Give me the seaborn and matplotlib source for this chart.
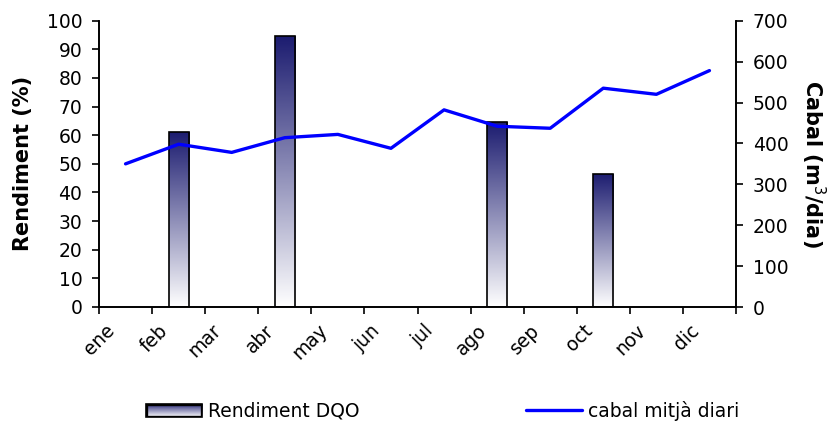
import numpy as np
import pandas as pd
import matplotlib
matplotlib.use("Agg")
import matplotlib.pyplot as plt
from matplotlib.colors import LinearSegmentedColormap
from matplotlib.patches import Patch, Rectangle
from matplotlib.lines import Line2D
import seaborn as sns

# data
months = ["ene", "feb", "mar", "abr", "may", "jun",
          "jul", "ago", "sep", "oct", "nov", "dic"]
rendiment_dqo = [np.nan, 61, np.nan, 94.5, np.nan, np.nan,
                 np.nan, 64.5, np.nan, 46.5, np.nan, np.nan]
cabal_diari = [350, 398, 378, 414, 422, 388, 482, 442, 437, 535, 520, 578]

sns.set_theme(style="white")
plt.rcParams['font.family'] = ['DejaVu Sans']
plt.rcParams['font.size'] = 13.5
for key in ("text.color", "axes.labelcolor", "xtick.color", "ytick.color"):
    plt.rcParams[key] = "black"

fig = plt.figure(figsize=(8.3, 4.25), dpi=100)
ax = fig.add_axes([99 / 830, 1 - 307 / 425, (736 - 99) / 830, (307 - 20.7) / 425])
ax2 = ax.twinx()

df = pd.DataFrame({"mes": months, "rend": rendiment_dqo, "pos": np.arange(len(months))})
sns.barplot(data=df, x="mes", y="rend", order=months, ax=ax, width=0.38,
            color="white", edgecolor="black", linewidth=1.2, saturation=1)

# gradient fill: dark navy at top fading to white at the bottom
cmap = LinearSegmentedColormap.from_list("navy_fade", ["white", "#1c1c70"])
grad = np.linspace(0, 1, 256).reshape(-1, 1)
for patch in ax.patches:
    x0, y0 = patch.get_x(), patch.get_y()
    w, h = patch.get_width(), patch.get_height()
    if np.isnan(h) or h == 0:
        continue
    im = ax.imshow(grad, cmap=cmap, aspect="auto", origin="lower",
                   extent=[x0, x0 + w, y0, y0 + h], zorder=patch.get_zorder() - 0.1,
                   interpolation="bilinear")
    im.set_clip_path(patch)
    patch.set_facecolor("none")

sns.lineplot(data=df, x="pos", y=cabal_diari, ax=ax2, color="#0000ff",
             linewidth=2.4, sort=False)

ax.set_xlim(-0.5, 11.5)
ax.set_ylim(0, 100)
ax2.set_ylim(0, 700)
ax.set_yticks(np.arange(0, 101, 10))
ax2.set_yticks(np.arange(0, 701, 100))

# tick marks on the category boundaries, labels shifted a bit to the right
ax.set_xticks(np.arange(-0.5, 12, 1))
ax.set_xticklabels([])
ax.set_xticks(np.arange(12) - 0.38, minor=True)
ax.set_xticklabels(months, minor=True, rotation=45, ha="right",
                   rotation_mode="anchor", fontsize=13.5)
ax.tick_params(axis="x", which="minor", length=0, pad=10, bottom=True)
ax.set_xlabel("")
ax2.set_xlabel("")

for a in (ax, ax2):
    a.tick_params(axis="both", which="major", direction="out", length=5, width=1.2,
                  color="black", labelsize=13.5, pad=7)
    a.spines["top"].set_visible(False)
    for side in ("left", "right", "bottom"):
        a.spines[side].set_color("black")
        a.spines[side].set_linewidth(1.2)
ax.tick_params(axis="y", left=True, right=False)
ax.tick_params(axis="x", which="major", bottom=True)
ax2.tick_params(axis="y", right=True, left=False)

ax.set_ylabel("Rendiment (%)", fontweight="bold", fontsize=15, labelpad=10)
ax2.set_ylabel("Cabal (m$^3$/dia)", fontweight="bold", fontsize=15,
               rotation=270, labelpad=28)

handles = [Patch(facecolor="none", edgecolor="black", linewidth=1.2),
           Line2D([0], [0], color="#0000ff", linewidth=2.4)]
leg = fig.legend(handles, ["Rendiment DQO", "cabal mitjà diari"], ncol=2, frameon=False,
                 loc="center", bbox_to_anchor=(0.533, 0.033), handlelength=3.0,
                 handletextpad=0.3, columnspacing=8.9, fontsize=13.5)

# paint the gradient into the bar legend key
fig.canvas.draw()
key = leg.get_patches()[0]
bb = key.get_window_extent().transformed(fig.transFigure.inverted())
kax = fig.add_axes([bb.x0, bb.y0, bb.width, bb.height])
kax.imshow(grad, cmap=cmap, aspect="auto", origin="lower", extent=[0, 1, 0, 1])
kax.add_patch(Rectangle((0, 0), 1, 1, fill=False, edgecolor="black", linewidth=2.4,
                        transform=kax.transAxes, clip_on=True))
kax.set_axis_off()

fig.savefig("out.png", dpi=100)
